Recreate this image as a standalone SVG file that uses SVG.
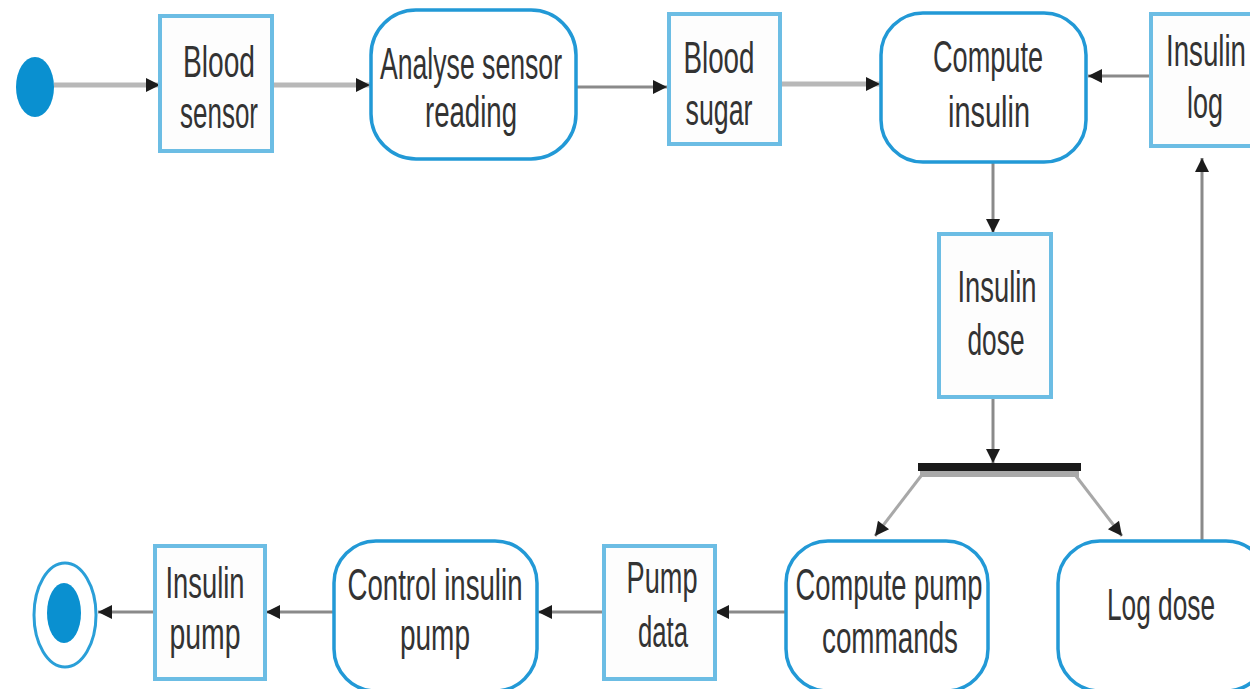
<svg xmlns="http://www.w3.org/2000/svg" width="1250" height="689" viewBox="0 0 1250 689">
  <style>
    .obj { fill: #fdfdfd; stroke: #6cbde4; stroke-width: 4; }
    .act { fill: #ffffff; stroke: #2299d6; stroke-width: 3.5; }
    .lbl { font-family: "Liberation Sans", Arial, sans-serif; font-size: 45px; fill: #333333; text-anchor: middle; }
    .flow { fill: none; stroke: #8a8a8a; stroke-width: 3; }
    .flow-lt { fill: none; stroke: #b8b8b8; stroke-width: 5; }
    .flow-dg { fill: none; stroke: #a8a8a8; stroke-width: 3; }
  </style>
  <defs>
    <marker id="arrow" viewBox="0 0 10 10" refX="10" refY="5" markerWidth="20" markerHeight="14" markerUnits="userSpaceOnUse" orient="auto">
      <path d="M0,0 L10,5 L0,10 z" fill="#1c1c1c"/>
    </marker>
  </defs>
  <rect width="1250" height="689" fill="#ffffff"/>

  <!-- connectors -->
  <g id="connectors">
    <line class="flow-lt" x1="54" y1="85" x2="160" y2="85" marker-end="url(#arrow)"/>
    <line class="flow-lt" x1="272" y1="85" x2="370" y2="85" marker-end="url(#arrow)"/>
    <line class="flow" x1="577" y1="87" x2="667" y2="87" marker-end="url(#arrow)"/>
    <line class="flow-lt" x1="780" y1="84" x2="880" y2="84" marker-end="url(#arrow)"/>
    <line class="flow" x1="1150" y1="76" x2="1088" y2="76" marker-end="url(#arrow)"/>
    <line class="flow" x1="993" y1="163" x2="993" y2="233" marker-end="url(#arrow)"/>
    <line class="flow" x1="993" y1="398" x2="993" y2="463" marker-end="url(#arrow)"/>
    <line class="flow-dg" x1="921" y1="476" x2="875" y2="536" marker-end="url(#arrow)"/>
    <line class="flow-dg" x1="1076" y1="476" x2="1122" y2="536" marker-end="url(#arrow)"/>
    <line class="flow" x1="1202" y1="541" x2="1202" y2="158" marker-end="url(#arrow)"/>
    <line class="flow" x1="785" y1="612" x2="715" y2="612" marker-end="url(#arrow)"/>
    <line class="flow" x1="603" y1="612" x2="538" y2="612" marker-end="url(#arrow)"/>
    <line class="flow" x1="333" y1="612" x2="266" y2="612" marker-end="url(#arrow)"/>
    <line class="flow" x1="154" y1="612" x2="98" y2="612" marker-end="url(#arrow)"/>
  </g>

  <!-- start node -->
  <g id="start">
    <ellipse cx="35" cy="87" rx="19" ry="30" fill="#0a90d0"/>
  </g>

  <g id="blood-sensor">
    <rect class="obj" x="160" y="16" width="112" height="135"/>
    <text class="lbl" x="219" y="77" textLength="72" lengthAdjust="spacingAndGlyphs">Blood</text>
    <text class="lbl" x="219" y="128" textLength="78" lengthAdjust="spacingAndGlyphs">sensor</text>
  </g>

  <g id="analyse-sensor-reading">
    <rect class="act" x="371" y="10" width="205" height="149" rx="45" ry="45"/>
    <text class="lbl" x="471" y="79" textLength="182" lengthAdjust="spacingAndGlyphs">Analyse sensor</text>
    <text class="lbl" x="471" y="127" textLength="92" lengthAdjust="spacingAndGlyphs">reading</text>
  </g>

  <g id="blood-sugar">
    <rect class="obj" x="669" y="14" width="111" height="130"/>
    <text class="lbl" x="719" y="73" textLength="71" lengthAdjust="spacingAndGlyphs">Blood</text>
    <text class="lbl" x="719" y="125" textLength="67" lengthAdjust="spacingAndGlyphs">sugar</text>
  </g>

  <g id="compute-insulin">
    <rect class="act" x="881" y="13" width="205" height="149" rx="42" ry="42"/>
    <text class="lbl" x="988" y="72" textLength="110" lengthAdjust="spacingAndGlyphs">Compute</text>
    <text class="lbl" x="989" y="127" textLength="82" lengthAdjust="spacingAndGlyphs">insulin</text>
  </g>

  <g id="insulin-log">
    <rect class="obj" x="1151" y="14" width="115" height="132"/>
    <text class="lbl" x="1206" y="66" textLength="80" lengthAdjust="spacingAndGlyphs">Insulin</text>
    <text class="lbl" x="1205" y="118" textLength="36" lengthAdjust="spacingAndGlyphs">log</text>
  </g>

  <g id="insulin-dose">
    <rect class="obj" x="939" y="234" width="112" height="163"/>
    <text class="lbl" x="997" y="302" textLength="79" lengthAdjust="spacingAndGlyphs">Insulin</text>
    <text class="lbl" x="996" y="355" textLength="57" lengthAdjust="spacingAndGlyphs">dose</text>
  </g>

  <g id="fork">
    <rect x="918" y="463" width="163" height="8" fill="#1a1a1a"/>
    <rect x="920" y="471" width="159" height="6" fill="#a9a9a9"/>
  </g>

  <g id="compute-pump-commands">
    <rect class="act" x="786" y="541" width="202" height="150" rx="42" ry="42"/>
    <text class="lbl" x="889" y="600" textLength="187" lengthAdjust="spacingAndGlyphs">Compute pump</text>
    <text class="lbl" x="890" y="653" textLength="136" lengthAdjust="spacingAndGlyphs">commands</text>
  </g>

  <g id="log-dose">
    <rect class="act" x="1058" y="541" width="210" height="150" rx="42" ry="42"/>
    <text class="lbl" x="1161" y="620" textLength="108" lengthAdjust="spacingAndGlyphs">Log dose</text>
  </g>

  <g id="pump-data">
    <rect class="obj" x="604" y="546" width="111" height="133"/>
    <text class="lbl" x="662" y="593" textLength="71" lengthAdjust="spacingAndGlyphs">Pump</text>
    <text class="lbl" x="663" y="647" textLength="50" lengthAdjust="spacingAndGlyphs">data</text>
  </g>

  <g id="control-insulin-pump">
    <rect class="act" x="334" y="541" width="203" height="150" rx="42" ry="42"/>
    <text class="lbl" x="435" y="600" textLength="175" lengthAdjust="spacingAndGlyphs">Control insulin</text>
    <text class="lbl" x="435" y="650" textLength="70" lengthAdjust="spacingAndGlyphs">pump</text>
  </g>

  <g id="insulin-pump">
    <rect class="obj" x="155" y="546" width="110" height="133"/>
    <text class="lbl" x="205" y="598" textLength="79" lengthAdjust="spacingAndGlyphs">Insulin</text>
    <text class="lbl" x="205" y="649" textLength="71" lengthAdjust="spacingAndGlyphs">pump</text>
  </g>

  <!-- end node -->
  <g id="end">
    <ellipse cx="65" cy="615" rx="31" ry="52" fill="none" stroke="#2a9fd8" stroke-width="3"/>
    <ellipse cx="64" cy="613" rx="17" ry="30" fill="#0a90d0"/>
  </g>
</svg>
